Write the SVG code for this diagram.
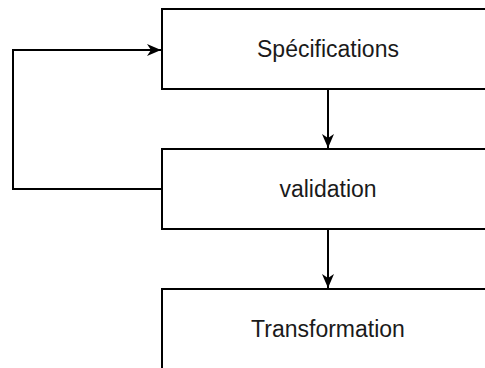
<svg xmlns="http://www.w3.org/2000/svg" width="485" height="368" viewBox="0 0 485 368">
  <style>
    .box { fill: #ffffff; stroke: #000000; stroke-width: 2; }
    .lbl { font-family: "Liberation Sans", Arial, sans-serif; font-size: 23px; fill: #1a1a1a; text-anchor: middle; }
    .edge { fill: none; stroke: #000000; stroke-width: 2; }
  </style>
  <defs>
    <marker id="arrow" viewBox="0 0 14 12" refX="14" refY="6" markerWidth="14" markerHeight="12" markerUnits="userSpaceOnUse" orient="auto">
      <path d="M0,0 L14,6 L0,12 L4,6 Z" fill="#000000"/>
    </marker>
  </defs>
  <rect width="485" height="368" fill="#ffffff"/>
  <g id="edges">
    <path class="edge" d="M328,89 V148" marker-end="url(#arrow)"/>
    <path class="edge" d="M328,229 V288" marker-end="url(#arrow)"/>
    <path class="edge" d="M162,189 H13 V50 H161" marker-end="url(#arrow)"/>
  </g>
  <g id="specifications">
    <rect class="box" x="162" y="9" width="340" height="80"/>
    <text class="lbl" x="328" y="57">Spécifications</text>
  </g>
  <g id="validation">
    <rect class="box" x="162" y="149" width="340" height="80"/>
    <text class="lbl" x="328" y="197">validation</text>
  </g>
  <g id="transformation">
    <rect class="box" x="162" y="289" width="340" height="80"/>
    <text class="lbl" x="328" y="337">Transformation</text>
  </g>
</svg>
